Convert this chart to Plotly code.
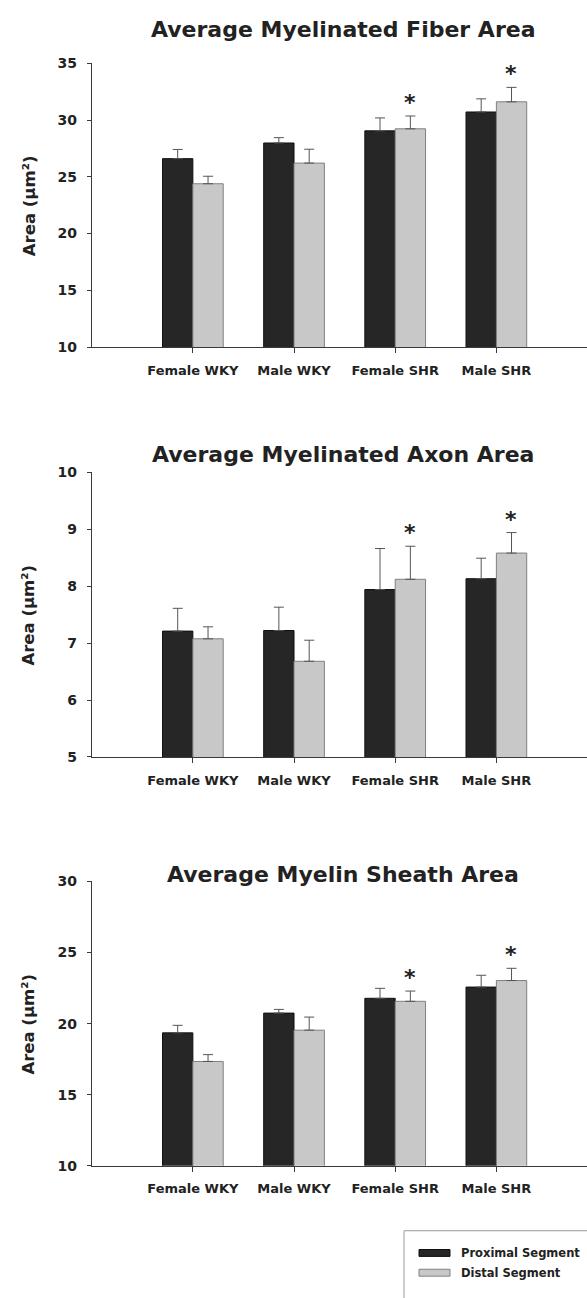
import plotly.graph_objects as go

W, H = 587, 1298

groups = ["Female WKY", "Male WKY", "Female SHR", "Male SHR"]
series_names = ["Proximal Segment", "Distal Segment"]

# Average myelinated fiber area (µm²)
fiber_prox = [26.60, 27.98, 29.05, 30.71]
fiber_prox_err = [0.81, 0.47, 1.14, 1.16]
fiber_dist = [24.39, 26.21, 29.23, 31.61]
fiber_dist_err = [0.66, 1.22, 1.13, 1.27]

# Average myelinated axon area (µm²)
axon_prox = [7.21, 7.22, 7.94, 8.13]
axon_prox_err = [0.40, 0.41, 0.72, 0.36]
axon_dist = [7.075, 6.68, 8.12, 8.58]
axon_dist_err = [0.21, 0.37, 0.58, 0.36]

# Average myelin sheath area (µm²)
sheath_prox = [19.35, 20.74, 21.78, 22.57]
sheath_prox_err = [0.53, 0.26, 0.70, 0.83]
sheath_dist = [17.34, 19.54, 21.57, 23.03]
sheath_dist_err = [0.48, 0.92, 0.72, 0.86]

# groups flagged as significant (distal segment)
significant = ["Female SHR", "Male SHR"]

titles = ["Average Myelinated Fiber Area",
          "Average Myelinated Axon Area",
          "Average Myelin Sheath Area"]
y_ranges = [[10, 35], [5, 10], [10, 30]]
y_ticks = [[10, 15, 20, 25, 30, 35], [5, 6, 7, 8, 9, 10], [10, 15, 20, 25, 30]]

FONT = "DejaVu Sans"
DARK = "#262626"
LIGHT = "#c8c8c8"
AXIS = "#3a3a3a"
TEXT = "#222222"


def py(px):
    """pixel row -> paper y"""
    return 1 - px / H


def pxx(px):
    """pixel column -> paper x"""
    return px / W


# plot areas in pixel rows (top, bottom)
panel_rows = [(56.0, 343.3), (470.0, 758.3), (884.3, 1172.3)]
x_left = 91.7

panels = [
    (fiber_prox, fiber_prox_err, fiber_dist, fiber_dist_err),
    (axon_prox, axon_prox_err, axon_dist, axon_dist_err),
    (sheath_prox, sheath_prox_err, sheath_dist, sheath_dist_err),
]

fig = go.Figure()
annotations = []
layout_axes = {}

for i, (p, pe, d, de) in enumerate(panels):
    n = "" if i == 0 else str(i + 1)
    xa, ya = "x" + n, "y" + n
    fig.add_trace(go.Bar(
        x=groups, y=p, name=series_names[0], xaxis=xa, yaxis=ya,
        marker=dict(color=DARK, line=dict(color="#111111", width=1)),
        error_y=dict(type="data", array=pe, arrayminus=[0] * len(pe),
                     symmetric=False, color="#555555", thickness=1, width=5),
        showlegend=False, offsetgroup="p",
    ))
    fig.add_trace(go.Bar(
        x=groups, y=d, name=series_names[1], xaxis=xa, yaxis=ya,
        marker=dict(color=LIGHT, line=dict(color="#808080", width=1)),
        error_y=dict(type="data", array=de, arrayminus=[0] * len(de),
                     symmetric=False, color="#555555", thickness=1, width=5),
        showlegend=False, offsetgroup="d",
    ))
    top, bot = panel_rows[i]
    layout_axes["xaxis" + n] = dict(
        domain=[pxx(x_left), 1], range=[-1.0, 3.896], anchor=ya,
        type="category", showline=True, linecolor=AXIS, linewidth=1,
        ticks="outside", ticklen=5, tickcolor=AXIS, showgrid=False,
        tickfont=dict(family=FONT, size=13, color=TEXT, weight="bold"),
        ticklabelstandoff=6, zeroline=False,
    )
    layout_axes["yaxis" + n] = dict(
        domain=[py(bot), py(top)], range=y_ranges[i], anchor=xa,
        tickvals=y_ticks[i], showline=True, linecolor=AXIS, linewidth=1,
        ticks="outside", ticklen=4, tickcolor=AXIS, showgrid=False,
        tickfont=dict(family=FONT, size=14, color=TEXT, weight="bold"),
        ticklabelstandoff=7, zeroline=False,
    )
    # y-axis title
    annotations.append(dict(
        text="Area (µm²)", x=pxx(29), y=py((top + bot) / 2),
        xref="paper", yref="paper", xanchor="center", yanchor="middle",
        textangle=-90, showarrow=False,
        font=dict(family=FONT, size=16.5, color=TEXT, weight="bold"),
    ))
    # significance markers above distal bars
    for g in significant:
        k = groups.index(g)
        annotations.append(dict(
            text="*", x=g, y=d[k] + de[k], xref=xa, yref=ya,
            xanchor="center", yanchor="bottom", xshift=15, yshift=-1,
            showarrow=False,
            font=dict(family=FONT, size=22, color=TEXT, weight="bold"),
        ))

# panel titles
title_rows = [21.5, 452.5, 877.5]
for t, r in zip(titles, title_rows):
    annotations.append(dict(
        text=t, x=pxx(343), y=py(r), xref="paper", yref="paper",
        xanchor="center", yanchor="middle", showarrow=False,
        font=dict(family=FONT, size=22, color=TEXT, weight="bold"),
    ))

# legend box drawn as shapes and text
shapes = [
    dict(type="rect", xref="paper", yref="paper",
         x0=pxx(404), x1=pxx(620), y0=py(1238), y1=py(1320),
         line=dict(color="#9a9a9a", width=1), fillcolor="white", layer="below"),
]
legend_rows = [1260.5, 1280.5]
legend_cols = [(DARK, "#111111"), (LIGHT, "#808080")]
for name, row, (fc, lc) in zip(series_names, legend_rows, legend_cols):
    shapes.append(dict(type="rect", xref="paper", yref="paper",
                       x0=pxx(419), x1=pxx(450), y0=py(row + 3.5), y1=py(row - 3.5),
                       line=dict(color=lc, width=1), fillcolor=fc))
    annotations.append(dict(
        text=name, x=pxx(459), y=py(row), xref="paper", yref="paper",
        xanchor="left", yanchor="middle", showarrow=False,
        font=dict(family=FONT, size=11.5, color=TEXT, weight="bold"),
    ))

fig.update_layout(
    width=W, height=H, margin=dict(l=0, r=0, t=0, b=0),
    paper_bgcolor="white", plot_bgcolor="white",
    barmode="group", bargap=0.4, bargroupgap=0,
    annotations=annotations, shapes=shapes, showlegend=False,
    **layout_axes,
)

fig.write_html("out.html")
